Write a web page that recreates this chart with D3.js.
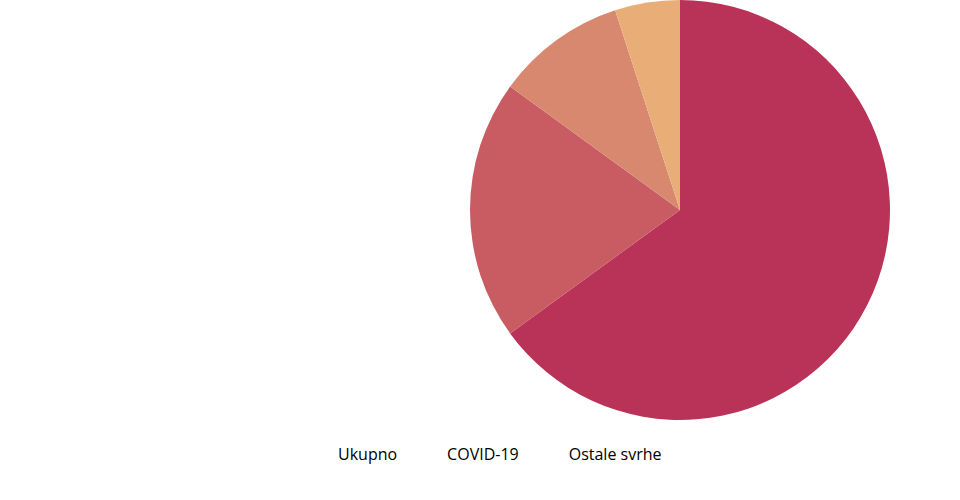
<!DOCTYPE html>
<html>
<head>
<meta charset="utf-8">
<script src="https://cdn.jsdelivr.net/npm/d3@7"></script>
<style>
  body { margin: 0; background: #fff; }
  svg { display: block; font-family: "Open Sans", sans-serif; }
</style>
</head>
<body>
<div id="chart"></div>
<script>
// slice values (percent shares)
var sliceValues = [65, 20, 10, 5];
var sliceColors = ["#b93257", "#c95c63", "#d98870", "#e9ae78"];
var legendLabels = ["Ukupno", "COVID-19", "Ostale svrhe"];

var width = 960, height = 500;
var cx = 680, cy = 210, radius = 210;

var svg = d3.select("#chart").append("svg")
    .attr("width", width)
    .attr("height", height);

var pie = d3.pie().sort(null).value(function(d) { return d; });
var arc = d3.arc().innerRadius(0).outerRadius(radius);

var g = svg.append("g")
    .attr("transform", "translate(" + cx + "," + cy + ")");

g.selectAll("path")
    .data(pie(sliceValues))
    .enter()
    .append("path")
    .attr("d", arc)
    .attr("fill", function(d, i) { return sliceColors[i]; });

// legend, text only
var legend = svg.append("g").attr("class", "legend");
var x = 338;
legendLabels.forEach(function(label) {
  var t = legend.append("text")
      .attr("x", x)
      .attr("y", 460)
      .attr("font-size", 16)
      .attr("fill", "#000")
      .text(label);
  x += t.node().getComputedTextLength() + 50;
});
</script>
</body>
</html>
